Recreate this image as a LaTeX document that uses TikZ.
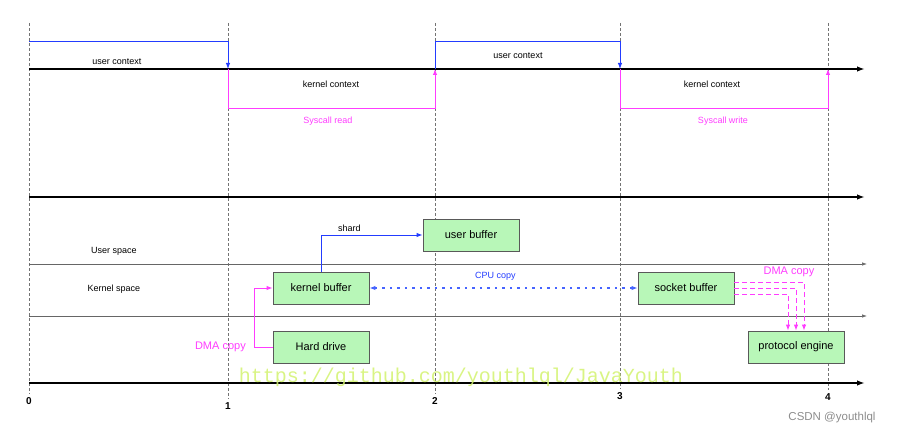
\documentclass[tikz,border=0pt]{standalone}
\usepackage{fontspec}
\setmainfont{Liberation Sans}
\setmonofont{Liberation Mono}
\usetikzlibrary{arrows.meta,positioning,shadows}
\definecolor{userblue}{RGB}{35,60,255}
\definecolor{copyblue}{RGB}{70,100,255}
\definecolor{dmapink}{RGB}{255,60,255}
\definecolor{bufgreen}{RGB}{184,247,184}
\definecolor{markgreen}{RGB}{210,242,110}

\begin{document}
\begin{tikzpicture}[
  x=1pt, y=-1pt,
  block/.style={rectangle, draw=black!65, fill=bufgreen, minimum width=96pt, minimum height=32pt,
    inner sep=0pt, line width=0.8pt, font=\fontsize{11}{13}\selectfont,
    drop shadow={shadow xshift=1.2pt, shadow yshift=-1.2pt, fill=black!25}},
  lbl/.style={font=\fontsize{9}{11}\selectfont},
  bigl/.style={font=\fontsize{11}{13}\selectfont, text=dmapink},
  num/.style={font=\bfseries\fontsize{10}{12}\selectfont},
  axis/.style={-{Latex[length=8pt,width=5.5pt]}, line width=1.6pt},
  lane/.style={-{Latex[length=5pt,width=3.5pt]}, line width=0.7pt, draw=black!60},
  tick/.style={dash pattern=on 3pt off 2pt, draw=black!55, line width=0.7pt},
  sw/.style={-{Latex[length=6pt,width=4.5pt]}, line width=1pt}
]
\useasboundingbox (0,0) rectangle (898,436);

% Time marks
\node[num] (n0) at (29,401) {0};
\node[num] (n1) at (228,406) {1};
\node[num] (n2) at (435,401) {2};
\node[num] (n3) at (620,396) {3};
\node[num] (n4) at (828,397) {4};
\coordinate (top0) at (29,23);
\coordinate (top1) at (228,23);
\coordinate (top2) at (435,23);
\coordinate (top3) at (620,23);
\coordinate (top4) at (828,23);
\draw[tick] (top0) -- (n0);
\draw[tick] (top1) -- (n1);
\draw[tick] (top2) -- (n2);
\draw[tick] (top3) -- (n3);
\draw[tick] (top4) -- (n4);

% Context switches
\coordinate (c0) at (29,69);
\coordinate (cend) at (865,69);
\coordinate (u0) at (29,42);
\coordinate (e1) at (228,69);
\coordinate (e2) at (435,69);
\coordinate (e3) at (620,69);
\coordinate (e4) at (828,69);
\draw[axis] (c0) -- (cend);
\draw[sw, userblue] (u0) -| (e1);
\draw[sw, dmapink] (e1) -- ++(0,40) -| (e2);
\draw[sw, userblue] (e2) -- ++(0,-27) -| (e3);
\draw[sw, dmapink] (e3) -- ++(0,40) -| (e4);
\node[lbl] (uc1) at (117,62) {user context};
\node[lbl] (kc1) at (331,84) {kernel context};
\node[lbl, text=dmapink] (rd) at (328,121) {Syscall read};
\node[lbl] (uc2) at (518,56) {user context};
\node[lbl] (kc2) at (712,84) {kernel context};
\node[lbl, text=dmapink] (wr) at (723,121) {Syscall write};

% Spaces
\coordinate (l0) at (29,197);
\coordinate (l0e) at (865,197);
\coordinate (l1) at (29,264);
\coordinate (l1e) at (867,264);
\coordinate (l2) at (29,316);
\coordinate (l2e) at (867,316);
\coordinate (l3) at (29,383);
\coordinate (l3e) at (865,383);
\draw[axis] (l0) -- (l0e);
\draw[lane] (l1) -- (l1e);
\draw[lane] (l2) -- (l2e);
\draw[axis] (l3) -- (l3e);
\node[lbl] (us) at (114,251) {User space};
\node[lbl] (ks) at (114,289) {Kernel space};

% Buffers
\node[block] (kbuf) at (321,288) {kernel buffer};
\node[block] (ubuf) at (471,235) {user buffer};
\node[block] (sbuf) at (686,288) {socket buffer};
\node[block] (disk) at (321,347) {Hard drive};
\node[block] (proto) at (796,347) {protocol engine};

% Copies
\draw[sw, userblue] (kbuf.north) |- node[pos=0.64, above, lbl, text=black] {shard} (ubuf.west);
\draw[{Latex[length=6pt,width=4.5pt]}-{Latex[length=6pt,width=4.5pt]}, copyblue, line width=1.3pt,
  dash pattern=on 2.5pt off 5pt] (kbuf.east) -- node[pos=0.47, above=4pt, lbl, text=userblue] {CPU copy} (sbuf.west);
\draw[sw, dmapink] (disk.west) -- ++(-18,0) node[left=5pt, bigl] {DMA copy} |- (kbuf.west);
\draw[sw, dmapink, dash pattern=on 5pt off 3pt] ([yshift=6pt]sbuf.east) -| ([xshift=8pt]proto.north);
\draw[sw, dmapink, dash pattern=on 5pt off 3pt] (sbuf.east) -| (proto.north);
\draw[sw, dmapink, dash pattern=on 5pt off 3pt] ([yshift=-6pt]sbuf.east) -| ([xshift=-8pt]proto.north);
\node[bigl] (dma2) at (789,272) {DMA copy};

% Marks
\node[font=\ttfamily\fontsize{20}{22}\selectfont, text=markgreen, opacity=0.85] (mark) at (461,377) {https://github.com/youthlql/JavaYouth};
\node[font=\fontsize{11.5}{13}\selectfont, text=black!45] (csdn) at (832,418) {CSDN @youthlql};
\end{tikzpicture}
\end{document}
